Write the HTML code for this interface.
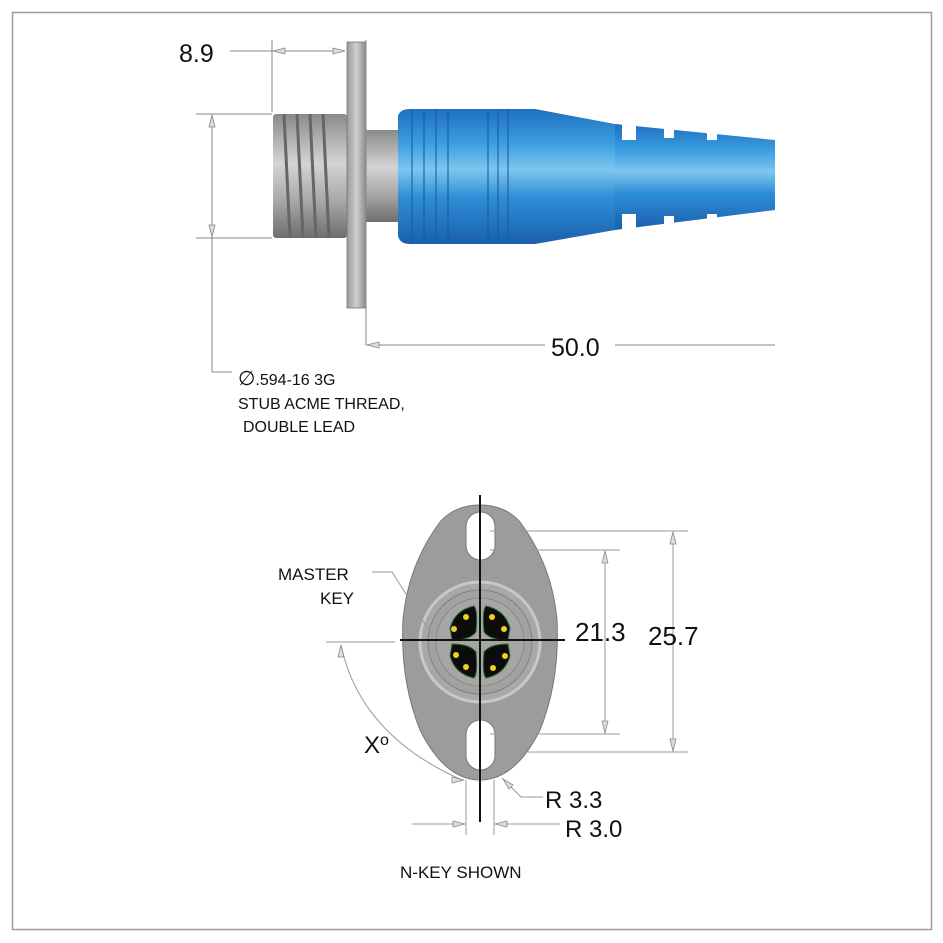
<!DOCTYPE html>
<html><head><style>
html,body{margin:0;padding:0;background:#fff}
svg{display:block}
text{font-family:"Liberation Sans",sans-serif;fill:#111}
</style></head><body>
<svg width="943" height="943" viewBox="0 0 943 943" xmlns="http://www.w3.org/2000/svg">
<defs>
<linearGradient id="gb" x1="0" y1="0" x2="0" y2="1">
<stop offset="0" stop-color="#1f6fc0"/><stop offset="0.25" stop-color="#3a9ee0"/><stop offset="0.45" stop-color="#7ec6ee"/><stop offset="0.65" stop-color="#2f8fd6"/><stop offset="1" stop-color="#1a5fae"/>
</linearGradient>
<linearGradient id="gg" x1="0" y1="0" x2="0" y2="1">
<stop offset="0" stop-color="#8a8a8a"/><stop offset="0.4" stop-color="#d4d4d4"/><stop offset="0.7" stop-color="#a8a8a8"/><stop offset="1" stop-color="#6e6e6e"/>
</linearGradient>
<linearGradient id="gf" x1="0" y1="0" x2="1" y2="0">
<stop offset="0" stop-color="#9a9a9a"/><stop offset="0.5" stop-color="#cfcfcf"/><stop offset="1" stop-color="#8a8a8a"/>
</linearGradient>
</defs>
<rect x="12.5" y="12.5" width="919" height="917" fill="#fff" stroke="#9a9a9a" stroke-width="1.5"/>

<rect x="347" y="130" width="53" height="92" fill="url(#gg)"/>
<rect x="273" y="114" width="74" height="124" rx="3" fill="url(#gg)"/>
<g stroke="#666" stroke-width="3" fill="none">
<path d="M284 114 l6 124 M297 114 l6 124 M310 114 l6 124 M323 114 l6 124"/>
</g>
<rect x="347" y="42" width="19" height="266" fill="url(#gf)" stroke="#777" stroke-width="0.8"/>
<path d="M398 116 Q400 109 410 109 L535 109 L615 124 L615 230 L535 244 L410 244 Q400 244 398 236 Z" fill="url(#gb)"/>
<path d="M615 124 L775 140 L775 210 L615 230 Z" fill="url(#gb)"/>
<g fill="#fff">
<rect x="622" y="118" width="14" height="22"/><rect x="622" y="214" width="14" height="22"/>
<rect x="664" y="120" width="10" height="18"/><rect x="664" y="216" width="10" height="18"/>
<rect x="707" y="124" width="10" height="16"/><rect x="707" y="214" width="10" height="16"/>
</g>
<g stroke="#1a5a9e" stroke-width="1.5" opacity="0.7">
<path d="M412 110 V243 M424 110 V243 M436 110 V243 M448 110 V243 M488 110 V243 M498 110 V243 M508 110 V243"/>
</g>

<g stroke="#888" stroke-width="1" fill="none">
<line x1="272" y1="40" x2="272" y2="112"/>
<line x1="366" y1="40" x2="366" y2="345"/>
<line x1="230" y1="51" x2="345" y2="51"/>
<line x1="196" y1="114" x2="272" y2="114"/>
<line x1="196" y1="238" x2="272" y2="238"/>
<line x1="212" y1="114" x2="212" y2="372"/>
<line x1="212" y1="372" x2="232" y2="372"/>
<line x1="366" y1="345" x2="545" y2="345"/>
<line x1="615" y1="345" x2="775" y2="345"/>
</g>
<g fill="#ddd" stroke="#888" stroke-width="0.8">
<path d="M273 51 l12 -3 v6 z"/><path d="M345 51 l-12 -3 v6 z"/>
<path d="M212 115 l-3 12 h6 z"/><path d="M212 237 l-3 -12 h6 z"/>
<path d="M367 345 l12 -3 v6 z"/>
</g>
<text x="179" y="62" font-size="25">8.9</text>
<text x="551" y="356" font-size="25">50.0</text>
<text x="238" y="385" font-size="16"><tspan font-size="20">∅</tspan>.594-16 3G</text>
<text x="238" y="409" font-size="16">STUB ACME THREAD,</text>
<text x="243" y="432" font-size="16">DOUBLE LEAD</text>

<path d="M480 505 Q505 505 520 522 Q552 565 557 620 Q560 680 540 730 Q515 780 480 780 Q445 780 420 730 Q400 680 403 620 Q408 565 440 522 Q455 505 480 505 Z" fill="#9c9c9c" stroke="#777"/>
<rect x="466" y="512" width="29" height="48" rx="14.5" fill="#fff" stroke="#777"/>
<rect x="466" y="720" width="29" height="50" rx="14.5" fill="#fff" stroke="#777"/>
<circle cx="480" cy="642" r="60" fill="#a8a8a8" stroke="#c8c8c8" stroke-width="3"/>
<circle cx="480" cy="642" r="52" fill="#a2a2a2" stroke="#808080"/>
<circle cx="480" cy="642" r="44" fill="#a6a6a6" stroke="#8a8a8a"/>
<g fill="#0c0c0c" stroke="#2e6a2e" stroke-width="1">
<path d="M450 628 Q455 610 474 606 Q478 610 476 632 Q470 640 452 640 Z"/>
<path d="M510 628 Q505 610 486 606 Q482 610 484 632 Q490 640 508 640 Z"/>
<path d="M450 656 Q455 674 474 678 Q478 674 476 652 Q470 644 452 644 Z"/>
<path d="M510 656 Q505 674 486 678 Q482 674 484 652 Q490 644 508 644 Z"/>
</g>
<g fill="#f2d21a">
<circle cx="466" cy="617" r="3"/><circle cx="454" cy="629" r="3"/>
<circle cx="492" cy="617" r="3"/><circle cx="504" cy="629" r="3"/>
<circle cx="456" cy="655" r="3"/><circle cx="466" cy="667" r="3"/>
<circle cx="505" cy="656" r="3"/><circle cx="493" cy="668" r="3"/>
</g>
<g stroke="#111" stroke-width="2">
<line x1="480" y1="495" x2="480" y2="822"/>
<line x1="400" y1="640" x2="565" y2="640"/>
</g>

<g stroke="#999" stroke-width="1" fill="none">
<line x1="490" y1="531" x2="688" y2="531"/>
<line x1="490" y1="550" x2="620" y2="550"/>
<line x1="490" y1="734" x2="620" y2="734"/>
<line x1="520" y1="752" x2="688" y2="752"/>
<line x1="673" y1="531" x2="673" y2="752"/>
<line x1="605" y1="550" x2="605" y2="734"/>
<line x1="326" y1="642" x2="395" y2="642"/>
<path d="M341 645 Q360 735 462 780"/>
<line x1="466" y1="780" x2="466" y2="835"/>
<line x1="494" y1="780" x2="494" y2="835"/>
<line x1="412" y1="824" x2="464" y2="824"/>
<line x1="496" y1="824" x2="560" y2="824"/>
<path d="M502 778 L521 797 L543 797"/>
<path d="M372 572 L392 572 L430 632"/>
</g>
<g fill="#ddd" stroke="#888" stroke-width="0.8">
<path d="M673 532 l-3 12 h6 z"/><path d="M673 751 l-3 -12 h6 z"/>
<path d="M605 551 l-3 12 h6 z"/><path d="M605 733 l-3 -12 h6 z"/>
<path d="M341 645 l-3 12 h6 z"/><path d="M464 780 l-12 -3 v6 z"/>
<path d="M465 824 l-12 -3 v6 z"/><path d="M495 824 l12 -3 v6 z"/>
<path d="M503 779 l6 10 l4 -4 z"/>
</g>
<text x="278" y="580" font-size="17">MASTER</text>
<text x="320" y="604" font-size="17">KEY</text>
<text x="575" y="641" font-size="26">21.3</text>
<text x="648" y="645" font-size="26">25.7</text>
<text x="364" y="753" font-size="24">X<tspan font-size="16" dy="-8">o</tspan></text>
<text x="545" y="808" font-size="24">R 3.3</text>
<text x="565" y="837" font-size="24">R 3.0</text>
<text x="400" y="878" font-size="17">N-KEY SHOWN</text>
</svg>
</body></html>
